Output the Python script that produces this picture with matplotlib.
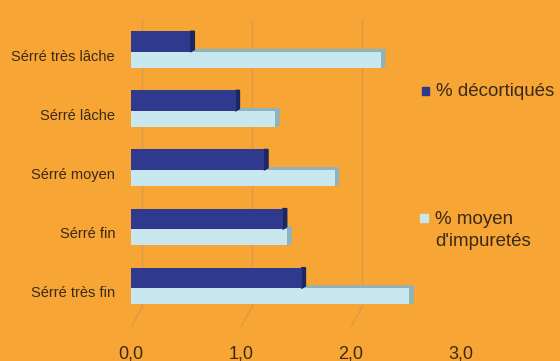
import numpy as np
import matplotlib
matplotlib.use("Agg")
import matplotlib.pyplot as plt
from matplotlib.patches import Polygon

# =====================================================
# DATA
# =====================================================

categories = [
    "Sérré très lâche",
    "Sérré lâche",
    "Sérré moyen",
    "Sérré fin",
    "Sérré très fin",
]

decortiques = [0.54, 0.95, 1.21, 1.38, 1.55]
impuretes = [2.27, 1.31, 1.85, 1.42, 2.53]

xticks = [0.0, 1.0, 2.0, 3.0]
xtick_labels = ["0,0", "1,0", "2,0", "3,0"]

# =====================================================
# STYLE
# =====================================================

bg = "#F7A535"
dark = "#2F3A8F"
light = "#C9E7EF"
light_side = "#8DB3BE"
dark_side = "#1E2660"
text_col = "#3A2A16"
grid_col = "#DE9A45"

plt.rcParams['font.family'] = ['Liberation Sans', 'DejaVu Sans']

fig = plt.figure(figsize=(5.6, 3.61), dpi=100, facecolor=bg)
ax = fig.add_axes([131 / 560, 1 - 327 / 361, 330 / 560, 307 / 361])
ax.set_facecolor(bg)

# =====================================================
# BARS
# =====================================================

n = len(categories)
ypos = np.arange(n)[::-1]
h_dark = 0.35
h_light = 0.27
split = -0.04
dx, dy = 0.036, 0.04

for y, v in zip(ypos, impuretes):
    top = y + split
    bot = top - h_light
    # top face of the light bar (partly hidden by the dark one)
    ax.add_patch(Polygon([[0, top], [v, top], [v + dx, top + dy], [dx, top + dy]],
                         closed=True, color=light_side, zorder=2))
    # end face
    ax.add_patch(Polygon([[v, bot], [v + dx, bot + dy], [v + dx, top + dy], [v, top]],
                         closed=True, color=light_side, zorder=2))

for y, v in zip(ypos, decortiques):
    bot = y + split
    top = bot + h_dark
    ax.add_patch(Polygon([[v, bot], [v + dx, bot + dy], [v + dx, top], [v, top]],
                         closed=True, color=dark_side, zorder=4))

ax.barh(ypos + split + h_dark / 2, decortiques, height=h_dark, color=dark, zorder=5)
ax.barh(ypos + split - h_light / 2, impuretes, height=h_light, color=light, zorder=3)

# =====================================================
# GRID (back plane, shifted right, slanted foot)
# =====================================================

back = 0.1
floor_back = -0.355
floor_front = -0.694

for xt in xticks:
    ax.plot([xt + back, xt + back], [floor_back, 4.5], color=grid_col, lw=1.0,
            zorder=1)
    ax.plot([xt, xt + back], [floor_front, floor_back], color=grid_col, lw=1.0,
            zorder=1)

ax.set_xlim(0, 3.0)
ax.set_ylim(floor_front, 4.5)

ax.set_xticks(xticks)
ax.set_xticklabels(xtick_labels, fontsize=13, color=text_col)
ax.set_yticks(ypos - 0.1)
ax.set_yticklabels(categories, fontsize=10.5, color=text_col)
ax.tick_params(axis='x', length=0, pad=13)
ax.tick_params(axis='y', length=0, pad=11.5)

for s in ax.spines.values():
    s.set_visible(False)

# =====================================================
# LEGEND
# =====================================================

fig.patches.append(plt.Rectangle((422 / 560, 1 - 95 / 361), 7 / 560, 8 / 361,
                                 transform=fig.transFigure, color=dark))
fig.text(436 / 560, 1 - 92 / 361, "% décortiqués", fontsize=13.5,
         color=text_col, va='center')

fig.patches.append(plt.Rectangle((420 / 560, 1 - 222 / 361), 8 / 560, 8 / 361,
                                 transform=fig.transFigure, color=light))
fig.text(435 / 560, 1 - 220 / 361, "% moyen", fontsize=13.5,
         color=text_col, va='center')
fig.text(435 / 560, 1 - 242 / 361, "d'impuretés", fontsize=13.5,
         color=text_col, va='center')

fig.savefig("out.png", dpi=100, facecolor=bg)
